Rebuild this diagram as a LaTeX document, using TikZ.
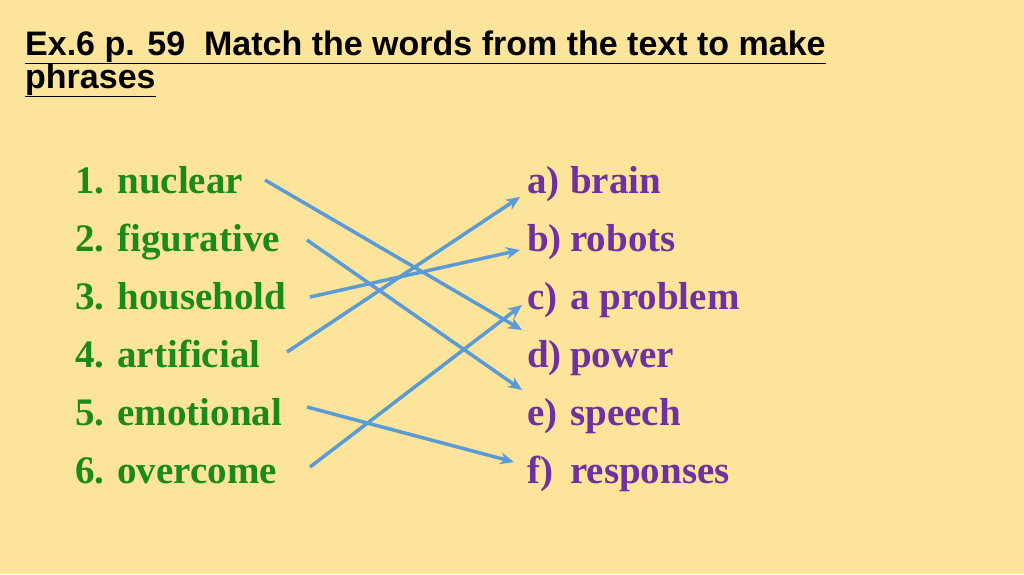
\documentclass[tikz,border=0pt]{standalone}
\usepackage{fontspec}
\setmainfont{Liberation Serif}
\newfontfamily\titlefont{Liberation Sans}
\usetikzlibrary{arrows.meta}
\definecolor{bg}{HTML}{FDE49B}
\definecolor{grn}{HTML}{1B8A1B}
\definecolor{pur}{HTML}{7030A0}
\definecolor{arr}{HTML}{5B9BD5}
\begin{document}
\begin{tikzpicture}[x=1pt,y=-1pt,
  ttl/.style={anchor=base west,inner sep=0,font=\titlefont\bfseries\fontsize{34}{36}\selectfont},
  lft/.style={anchor=base west,inner sep=0,text=grn,font=\bfseries\fontsize{39}{42}\selectfont},
  rgt/.style={anchor=base west,inner sep=0,text=pur,font=\bfseries\fontsize{39}{42}\selectfont},
  con/.style={draw=arr,line width=3.5pt,-{Stealth[length=14pt,width=12pt]}}]
\fill[bg] (0,0) rectangle (1024,574);
\useasboundingbox (0,0) rectangle (1024,574);
\node[ttl] (t1) at (25,55) {\underline{Ex.6 p. 59\ \ Match the words from the text to make}};
\node[ttl] (t2) at (25,88) {\underline{phrases}};
\foreach \i/\t [count=\k] in {1/nuclear,2/figurative,3/household,4/artificial,5/emotional,6/overcome}{
  \node[lft] (l\k) at (75,{193+58*(\k-1)}) {\i. \t};
}
\foreach \l/\t [count=\k] in {a/brain,b/robots,c/a problem,d/power,e/speech,f/responses}{
  \node[rgt] (p\k) at (527,{193+58*(\k-1)}) {\l)};
  \node[rgt] (r\k) at (570,{193+58*(\k-1)}) {\t};
}
\coordinate (s1) at (265,180); \coordinate (e1) at (522,330);
\coordinate (s2) at (307,240); \coordinate (e2) at (522,390);
\coordinate (s3) at (310,297); \coordinate (e3) at (520,250);
\coordinate (s4) at (287,352); \coordinate (e4) at (520,197);
\coordinate (s5) at (307,407); \coordinate (e5) at (514,462);
\coordinate (s6) at (310,467); \coordinate (e6) at (522,305);
\foreach \k in {1,...,6}{\draw[con] (s\k) -- (e\k);}
\end{tikzpicture}
\end{document}
